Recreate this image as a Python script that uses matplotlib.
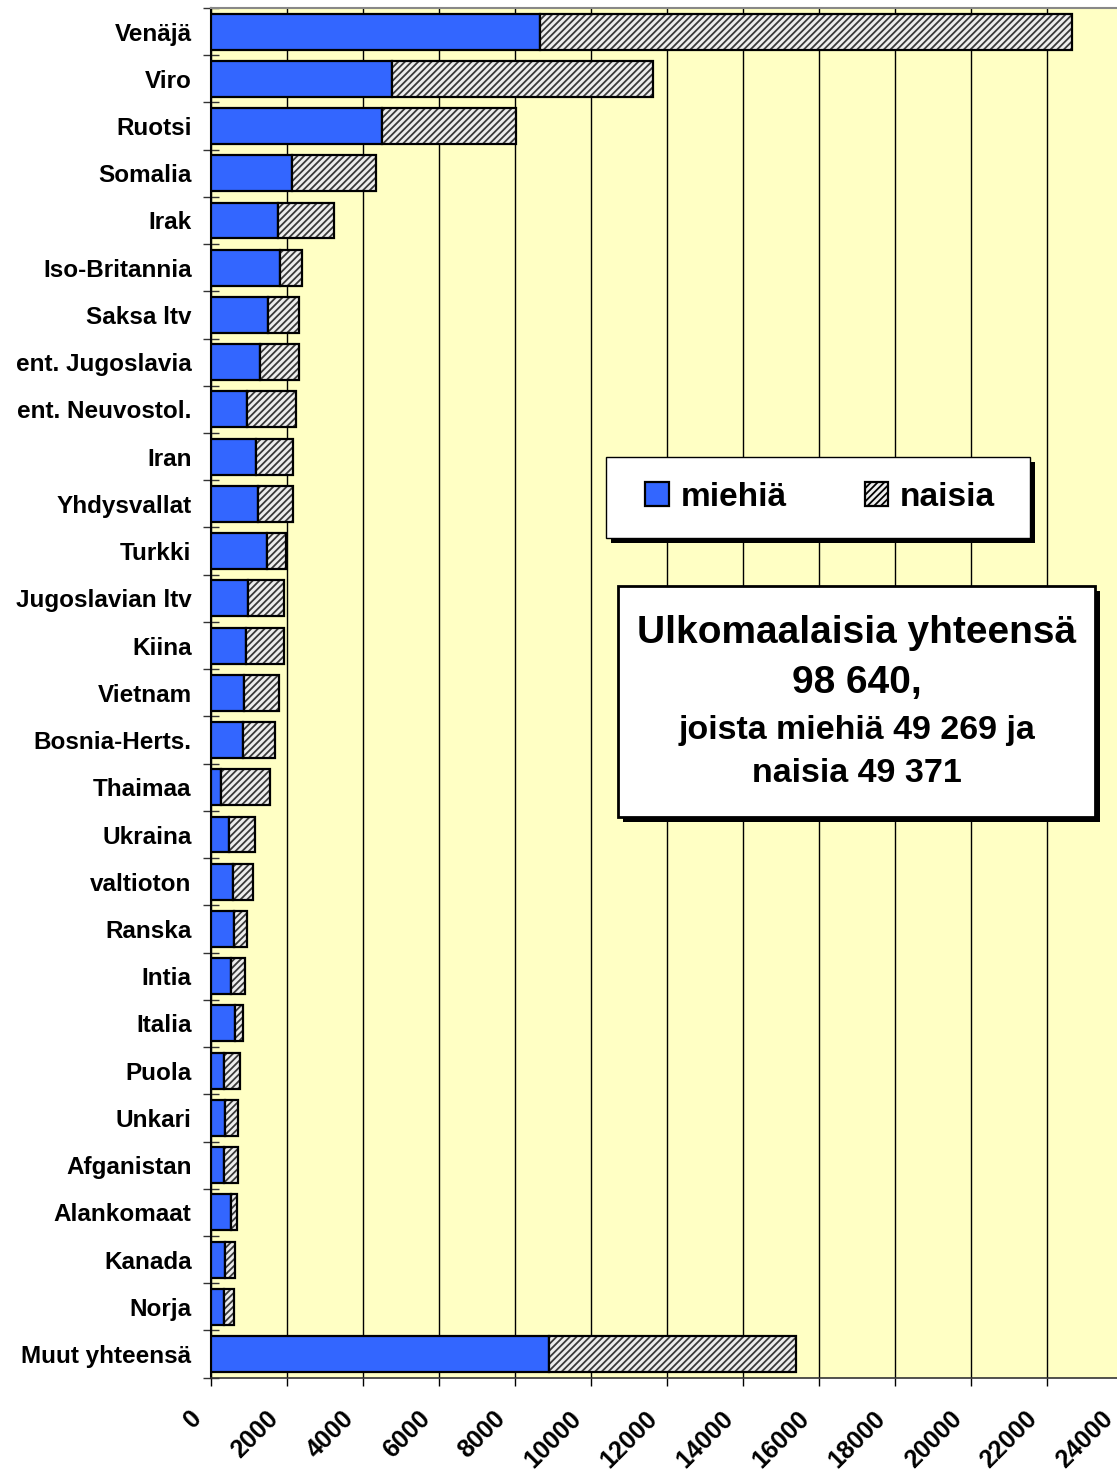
import matplotlib
matplotlib.use("Agg")
import matplotlib.pyplot as plt
import matplotlib.patheffects as pe
from matplotlib.transforms import offset_copy
from matplotlib.patches import Rectangle, Patch
import numpy as np

plt.rcParams['font.family'] = ['Liberation Sans', 'DejaVu Sans']
plt.rcParams['font.weight'] = 'bold'
plt.rcParams['hatch.linewidth'] = 1.3

# Maat ja miesten / naisten lukumäärät
maat = ["Venäjä", "Viro", "Ruotsi", "Somalia", "Irak", "Iso-Britannia",
        "Saksa ltv", "ent. Jugoslavia", "ent. Neuvostol.", "Iran",
        "Yhdysvallat", "Turkki", "Jugoslavian ltv", "Kiina", "Vietnam",
        "Bosnia-Herts.", "Thaimaa", "Ukraina", "valtioton", "Ranska",
        "Intia", "Italia", "Puola", "Unkari", "Afganistan", "Alankomaat",
        "Kanada", "Norja", "Muut yhteensä"]
miehia = [8650, 4760, 4495, 2140, 1755, 1815, 1500, 1290, 940, 1195,
          1235, 1475, 985, 920, 870, 835, 255, 475, 570, 605,
          520, 630, 335, 370, 335, 520, 370, 335, 8900]
yhteensa = [22660, 11630, 8020, 4350, 3230, 2385, 2315, 2315, 2230, 2165,
            2160, 1985, 1930, 1930, 1780, 1675, 1545, 1150, 1095, 945,
            895, 840, 755, 710, 710, 675, 640, 615, 15400]
naisia = [t - m for t, m in zip(yhteensa, miehia)]
xticks = list(range(0, 24001, 2000))

BLUE = "#3366FF"
BG = "#FFFFC4"
HATCH_FACE = "#eeeeee"
HATCH_LINE = "#3a3a3a"

fig = plt.figure(figsize=(11.17, 14.70), dpi=100)
ax = fig.add_axes([0.1889, 0.0628, 0.8162, 0.9318])
ax.set_facecolor(BG)

y = np.arange(len(maat))
ax.barh(y, miehia, height=0.76, color=BLUE, edgecolor="black",
        linewidth=1.6, zorder=3)
ax.barh(y, naisia, left=miehia, height=0.76, color=HATCH_FACE,
        edgecolor=HATCH_LINE, hatch="/////", linewidth=0, zorder=3)
ax.barh(y, naisia, left=miehia, height=0.76, fill=False,
        edgecolor="black", linewidth=1.6, zorder=4)

ax.set_xlim(0, 24000)
ax.set_ylim(len(maat) - 0.5, -0.5)
ax.set_xticks(xticks)
ax.set_xticklabels([])
# vinot x-akselin luvut, hieman vasemmalle tikistä
lab_tr = offset_copy(ax.get_xaxis_transform(), fig=fig, x=-13, y=-37,
                     units="dots")
for v in xticks:
    ax.text(v, 0, str(v), transform=lab_tr, rotation=45, ha="right",
            va="center", rotation_mode="anchor", fontsize=18,
            fontweight="bold", clip_on=False)

ax.set_yticks(y)
ax.set_yticklabels(maat, fontsize=17.5, fontweight="bold")
ax.set_yticks(np.arange(-0.5, len(maat)), minor=True)
ax.tick_params(axis="y", which="major", length=0, pad=14)
ax.tick_params(axis="y", which="minor", direction="inout", length=11,
               width=1, color="#333333")
ax.tick_params(axis="x", direction="out", length=6, width=1)
ax.xaxis.grid(True, color="black", linewidth=1, zorder=0)
ax.set_axisbelow(True)

ax.spines["right"].set_visible(False)
ax.spines["top"].set_color("#888888")
ax.spines["top"].set_linewidth(1.5)
ax.spines["left"].set_linewidth(1.5)
ax.spines["bottom"].set_linewidth(1.2)
ax.spines["bottom"].set_color("#333333")

shadow = [pe.SimplePatchShadow(offset=(3.6, -3.6), shadow_rgbFace="black",
                               alpha=1), pe.Normal()]

# selitelaatikko
leg_box = Rectangle((0.4333, 0.6130), 0.4650, 0.0594, transform=ax.transAxes,
                    facecolor="white", edgecolor="black", linewidth=1,
                    zorder=5)
leg_box.set_path_effects(shadow)
ax.add_patch(leg_box)
handles = [Patch(facecolor=BLUE, edgecolor="black", linewidth=1.6),
           Patch(facecolor=HATCH_FACE, edgecolor="black", hatch="/////",
                 linewidth=1.6)]
leg = ax.legend(handles, ["miehiä", "naisia"], ncol=2, frameon=False,
                loc="center left", bbox_to_anchor=(0.4765, 0.6428),
                borderpad=0, borderaxespad=0, handlelength=0.7,
                handleheight=0.7, handletextpad=0.35, columnspacing=2.35,
                prop={"size": 24, "weight": "bold"})
leg.set_zorder(6)

# tekstilaatikko
txt_box = Rectangle((0.4464, 0.4096), 0.5232, 0.1684, transform=ax.transAxes,
                    facecolor="white", edgecolor="black", linewidth=2,
                    zorder=5)
txt_box.set_path_effects(shadow)
ax.add_patch(txt_box)
rivit = [("Ulkomaalaisia yhteensä", 0.5439, 28),
         ("98 640,", 0.5071, 28),
         ("joista miehiä 49 269 ja", 0.4728, 24.5),
         ("naisia 49 371", 0.4414, 24.5)]
for teksti, yy, koko in rivit:
    ax.text(0.708, yy, teksti, transform=ax.transAxes, ha="center",
            va="center", fontsize=koko, fontweight="bold", zorder=7)

fig.savefig("out.png", dpi=100)
